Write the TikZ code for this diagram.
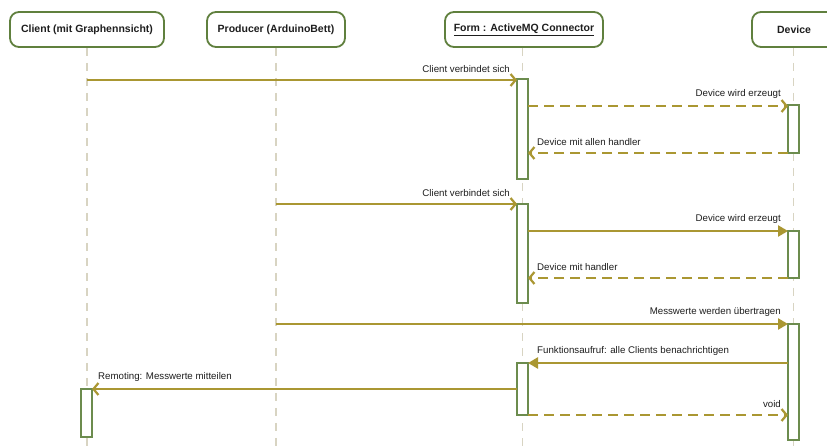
\documentclass[tikz,border=0pt]{standalone}
\usepackage{fontspec}
\setmainfont{Liberation Sans}
\usetikzlibrary{arrows.meta}
\definecolor{msgcol}{RGB}{170,151,50}
\definecolor{boxcol}{RGB}{96,128,62}
\definecolor{barcol}{RGB}{108,140,78}
\definecolor{lifecol}{RGB}{216,212,194}
\definecolor{txtcol}{RGB}{30,30,30}
\begin{document}
\begin{tikzpicture}[x=1pt,y=-1pt,
  header/.style={draw=boxcol,line width=1.8pt,rounded corners=9pt,fill=white,
    minimum height=35pt,inner sep=0pt,font=\fontsize{10.5}{12}\selectfont\bfseries,text=txtcol},
  actbar/.style={draw=barcol,line width=1.2pt,fill=white,minimum width=11pt,inner sep=0pt,outer sep=0pt},
  lifeline/.style={draw=lifecol,line width=1.6pt,dash pattern=on 8pt off 7pt},
  msg/.style={draw=msgcol,line width=2.4pt,-{Straight Barb[length=5pt,width=12pt,line width=2.2pt]}},
  call/.style={draw=msgcol,line width=2.4pt,-{Triangle[length=10pt,width=11pt]}},
  reply/.style={draw=msgcol,line width=2.4pt,dash pattern=on 10pt off 6pt,
    -{Straight Barb[length=5pt,width=12pt,line width=2.2pt]}},
  lbl/.style={font=\fontsize{9.7}{11}\selectfont,text=txtcol,inner sep=0pt}
]
\clip (0,0) rectangle (827,446);
\fill[white] (0,0) rectangle (827,446);

% participants
\node[header,minimum width=154pt] (client) at (87,29.5) {Client (mit Graphennsicht)};
\node[header,minimum width=138pt] (producer) at (276,29.5) {Producer (ArduinoBett)};
\node[header,minimum width=158pt] (form) at (524,29.5) {\underline{Form : ActiveMQ Connector}};
\node[header,minimum width=84pt] (device) at (794,29.5) {Device};

% lifelines
\coordinate (clientEnd) at (87,446);
\coordinate (producerEnd) at (276,446);
\coordinate (formEnd) at (522.5,446);
\coordinate (deviceEnd) at (793.5,446);
\draw[lifeline] (client.south) -- (clientEnd);
\draw[lifeline] (producer.south) -- (producerEnd);
\draw[lifeline] (522.5,48) -- (formEnd);
\draw[lifeline] (793.5,48) -- (deviceEnd);

% activation bars
\node[actbar,minimum height=100pt,anchor=north] (fa1) at (522.5,79) {};
\node[actbar,minimum height=48pt,anchor=north] (da1) at (793.5,105) {};
\node[actbar,minimum height=99pt,anchor=north] (fa2) at (522.5,204) {};
\node[actbar,minimum height=47pt,anchor=north] (da2) at (793.5,231) {};
\node[actbar,minimum height=116pt,anchor=north] (da3) at (793.5,324) {};
\node[actbar,minimum height=52pt,anchor=north] (fa3) at (522.5,363) {};
\node[actbar,minimum height=48pt,anchor=north] (ca1) at (86.5,389) {};

% message end points
\coordinate (c1) at (87,80);
\coordinate (f1) at (517,80);
\coordinate (f2) at (528,106);
\coordinate (d2) at (788,106);
\coordinate (p4) at (276,204);
\coordinate (f5) at (528,231);
\coordinate (p7) at (276,324);
\coordinate (d8) at (788,363);
\coordinate (f9) at (517,389);
\coordinate (d10) at (788,415);

% messages
\draw[msg] (c1) -- (f1);
\node[lbl,anchor=south east] at ([xshift=-7pt,yshift=7pt]f1) {Client verbindet sich};
\draw[reply] (f2) -- (d2);
\node[lbl,anchor=south east] at ([xshift=-7pt,yshift=7pt]d2) {Device wird erzeugt};
\draw[reply] (da1.south west) -- (fa1.east |- da1.south west);
\node[lbl,anchor=south west] at ([xshift=9pt,yshift=7pt]fa1.east |- da1.south) {Device mit allen handler};

\draw[msg] (p4) -- (fa2.north west);
\node[lbl,anchor=south east] at ([xshift=-7pt,yshift=7pt]fa2.north west) {Client verbindet sich};
\draw[call] (f5) -- (da2.north west);
\node[lbl,anchor=south east] at ([xshift=-7pt,yshift=7pt]da2.north west) {Device wird erzeugt};
\draw[reply] (da2.south west) -- (fa2.east |- da2.south west);
\node[lbl,anchor=south west] at ([xshift=9pt,yshift=7pt]fa2.east |- da2.south) {Device mit handler};

\draw[call] (p7) -- (da3.north west);
\node[lbl,anchor=south east] at ([xshift=-7pt,yshift=7pt]da3.north west) {Messwerte werden übertragen};
\draw[call] (d8) -- (fa3.north east);
\node[lbl,anchor=south west] at ([xshift=9pt,yshift=7pt]fa3.north east) {Funktionsaufruf: alle Clients benachrichtigen};
\draw[msg] (f9) -- (ca1.north east);
\node[lbl,anchor=south west] at ([xshift=6pt,yshift=7pt]ca1.north east) {Remoting: Messwerte mitteilen};
\draw[reply] (fa3.south east) -- (d10);
\node[lbl,anchor=south east] at ([xshift=-7pt,yshift=7pt]d10) {void};
\end{tikzpicture}
\end{document}
